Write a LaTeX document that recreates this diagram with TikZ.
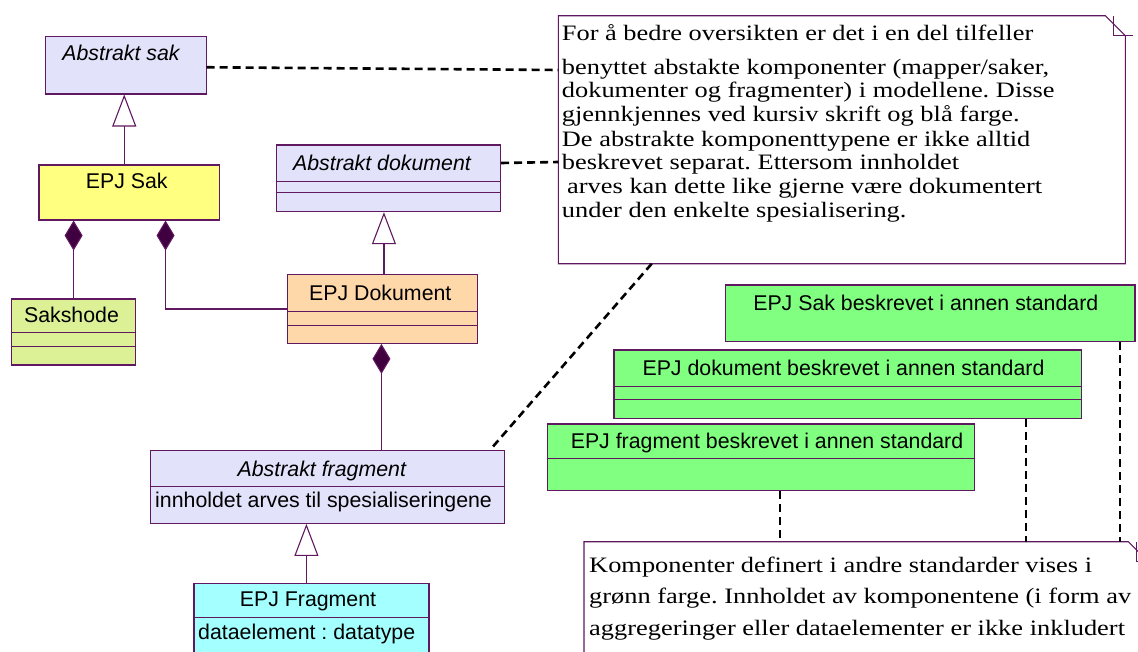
\documentclass[tikz,border=0pt]{standalone}
\usepackage{fontspec}
\setmainfont{Liberation Sans}
\newfontfamily\notefont[FakeStretch=1.2]{Liberation Serif}
\usetikzlibrary{arrows.meta}
\definecolor{umlb}{RGB}{96,24,96}
\definecolor{absfill}{RGB}{226,226,250}
\definecolor{sakfill}{RGB}{255,255,128}
\definecolor{hodefill}{RGB}{220,240,150}
\definecolor{dokfill}{RGB}{255,216,170}
\definecolor{fragfill}{RGB}{164,255,255}
\definecolor{grfill}{RGB}{128,255,128}
\definecolor{diafill}{RGB}{64,0,64}
\frenchspacing
\begin{document}
\begin{tikzpicture}[x=1pt,y=-1pt,
  cls/.style={draw=umlb, line width=1.2pt, inner sep=0pt, anchor=north west},
  divline/.style={draw=umlb, line width=1pt},
  lbl/.style={font=\fontsize{21.33}{25}\selectfont, inner sep=0pt, anchor=base},
  lbll/.style={lbl, anchor=base west},
  ital/.style={font=\fontsize{21.33}{25}\selectfont\itshape, inner sep=0pt, anchor=base},
  notetxt/.style={font=\notefont\fontsize{22}{24}\selectfont, inner sep=0pt, anchor=base west},
  conn/.style={draw=umlb, line width=1.1pt},
  gen/.style={conn, -{Triangle[open, length=32pt, width=24pt]}},
  comp/.style={conn, {Diamond[length=30pt, width=18pt, fill=diafill]}-},
  noteline/.style={draw=black, line width=2.6pt, dash pattern=on 8pt off 5pt},
  notebox/.style={inner sep=0pt, anchor=north west, fill=white},
]
\useasboundingbox (0,0) rectangle (1138,651);
\clip (0,0) rectangle (1138,651);

% ---------- notes ----------
\node[notebox, minimum width=566.7pt, minimum height=247.6pt] (note1) at (558.3,15.7) {};
\draw[conn] (note1.north west) -- ([xshift=-20pt]note1.north east) -- ([yshift=-20pt]note1.north east) -- (note1.south east) -- (note1.south west) -- cycle;
\draw[conn] ([xshift=-12pt]note1.north east) -- ([xshift=-12pt,yshift=-20pt]note1.north east) -- ([xshift=8pt,yshift=-20pt]note1.north east);

\node[notebox, minimum width=564pt, minimum height=130pt] (note2) at (584,541.7) {};
\draw[conn] (note2.south west) -- (note2.north west) -- ([xshift=-20pt]note2.north east) -- ([yshift=-20pt]note2.north east) -- (note2.south east);
\draw[conn] ([xshift=-12pt]note2.north east) -- ([xshift=-12pt,yshift=-20pt]note2.north east) -- ([xshift=8pt,yshift=-20pt]note2.north east);

\node[notetxt] (n1a) at (561.7,40.7) {For å bedre oversikten er det i en del tilfeller};
\node[notetxt] (n1b) at (561.7,74) {benyttet abstakte komponenter (mapper/saker,};
\node[notetxt] (n1c) at (561.7,97) {dokumenter og fragmenter) i modellene. Disse};
\node[notetxt] (n1d) at (561.7,121) {gjennkjennes ved kursiv skrift og blå farge.};
\node[notetxt] (n1e) at (561.7,146) {De abstrakte komponenttypene er ikke alltid};
\node[notetxt] (n1f) at (561.7,169) {beskrevet separat. Ettersom innholdet};
\node[notetxt] (n1g) at (567,193) {arves kan dette like gjerne være dokumentert};
\node[notetxt] (n1h) at (561.7,217) {under den enkelte spesialisering.};

\node[notetxt] (n2a) at (589,572) {Komponenter definert i andre standarder vises i};
\node[notetxt] (n2b) at (589,603) {grønn farge. Innholdet av komponentene (i form av};
\node[notetxt] (n2c) at (589,635) {aggregeringer eller dataelementer er ikke inkludert};

% ---------- classes ----------
\node[cls, fill=absfill, minimum width=160.5pt, minimum height=57.3pt] (asak) at (45,36) {};
\node[ital] (asakT) at (121,60) {Abstrakt sak};

\node[cls, fill=sakfill, minimum width=180.7pt, minimum height=55pt] (sak) at (38.3,164.3) {};
\node[lbl] (sakT) at (126.7,188) {EPJ Sak};

\node[cls, fill=hodefill, minimum width=124pt, minimum height=66pt] (hode) at (11,298.3) {};
\draw[divline] (hode.west |- 0,332.7) -- (hode.east |- 0,332.7);
\draw[divline] (hode.west |- 0,346.7) -- (hode.east |- 0,346.7);
\node[lbl] (hodeT) at (71.5,322.5) {Sakshode};

\node[cls, fill=absfill, minimum width=224.3pt, minimum height=66.7pt] (adok) at (275.7,144.3) {};
\draw[divline] (adok.west |- 0,181.7) -- (adok.east |- 0,181.7);
\draw[divline] (adok.west |- 0,192.7) -- (adok.east |- 0,192.7);
\node[ital] (adokT) at (382,170) {Abstrakt dokument};

\node[cls, fill=dokfill, minimum width=189.7pt, minimum height=68.7pt] (dok) at (287,274) {};
\draw[divline] (dok.west |- 0,311.7) -- (dok.east |- 0,311.7);
\draw[divline] (dok.west |- 0,325) -- (dok.east |- 0,325);
\node[lbl] (dokT) at (380.3,300.7) {EPJ Dokument};

\node[cls, fill=absfill, minimum width=354pt, minimum height=72.7pt] (afrag) at (150,450) {};
\draw[divline] (afrag.west |- 0,486) -- (afrag.east |- 0,486);
\node[ital] (afragT) at (321.8,476.7) {Abstrakt fragment};
\node[lbll] (afragA) at (155,507.3) {innholdet arves til spesialiseringene};

\node[cls, fill=fragfill, minimum width=235pt, minimum height=90pt] (frag) at (193.3,582.7) {};
\draw[divline] (frag.west |- 0,617.7) -- (frag.east |- 0,617.7);
\node[lbl] (fragT) at (308,606.7) {EPJ Fragment};
\node[lbll] (fragA) at (198,639.3) {dataelement : datatype};

\node[cls, fill=grfill, minimum width=409.3pt, minimum height=56.7pt] (gsak) at (725,284.3) {};
\node[lbl] (gsakT) at (925.8,310) {EPJ Sak beskrevet i annen standard};

\node[cls, fill=grfill, minimum width=467.4pt, minimum height=68.4pt] (gdok) at (613.3,349.3) {};
\draw[divline] (gdok.west |- 0,386.7) -- (gdok.east |- 0,386.7);
\draw[divline] (gdok.west |- 0,399.3) -- (gdok.east |- 0,399.3);
\node[lbl] (gdokT) at (843.5,375) {EPJ dokument beskrevet i annen standard};

\node[cls, fill=grfill, minimum width=427.3pt, minimum height=66.7pt] (gfrag) at (546.7,423.3) {};
\draw[divline] (gfrag.west |- 0,458.3) -- (gfrag.east |- 0,458.3);
\node[lbl] (gfragT) at (767,448.3) {EPJ fragment beskrevet i annen standard};

% ---------- connectors ----------
\draw[gen] ([xshift=-5pt]sak.north) -- ([xshift=-5pt]sak.north |- asak.south);
\draw[gen] ([xshift=1.5pt]dok.north) -- ([xshift=1.5pt]dok.north |- adok.south);
\draw[gen] ([xshift=-5pt]frag.north) -- ([xshift=-5pt]frag.north |- afrag.south);

\draw[comp] (hode.north |- sak.south) -- (hode.north);
\draw[comp] ([xshift=36.3pt]sak.south) |- (dok.west);
\draw[comp] ([xshift=-1pt]dok.south) -- ([xshift=-1pt]dok.south |- afrag.north);

% ---------- note links ----------
\draw[noteline] ([yshift=-2pt]asak.east) -- (note1.west |- 0,70);
\draw[noteline] (adok.east |- 0,163) -- (note1.west |- 0,162);
\draw[noteline] (note1.south -| 651.7,0) -- (afrag.north -| 490,0);
\draw[noteline] (gfrag.south -| 780,0) -- (note2.north -| 780,0);
\draw[noteline] (gdok.south -| 1026,0) -- (note2.north -| 1026,0);
\draw[noteline] (gsak.south -| 1120,0) -- (note2.north -| 1120,0);
\end{tikzpicture}
\end{document}
